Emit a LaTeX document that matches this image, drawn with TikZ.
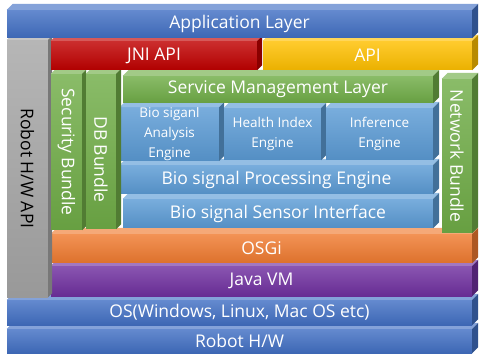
\documentclass[tikz,border=0pt]{standalone}
\usepackage{fontspec}
\setmainfont{Open Sans}
\usepackage{graphicx}
\definecolor{cAppBlue}{HTML}{4270C4}
\definecolor{cBio}{HTML}{5B9BD5}
\definecolor{cGreen}{HTML}{70AD47}
\definecolor{cRed}{HTML}{C00000}
\definecolor{cYellow}{HTML}{FFC000}
\definecolor{cOrange}{HTML}{F07B30}
\definecolor{cPurple}{HTML}{7030A0}
\definecolor{cGray}{HTML}{A6A6A6}
\newcommand\bigfont{\fontsize{17.5}{20}\selectfont}
\newcommand\smallfont{\fontsize{13.5}{16}\selectfont}
\newcommand\layerbox[8]{%
  \node[layerstyle, top color=#6!82!white, bottom color=#6!92!black,
        minimum width={(#4)-(#2)}, minimum height={(#5)-(#3)}]
        (#1) at ({((#2)+(#4))/2},{((#3)+(#5))/2}) {#8};
  \fill[#6!65!white] (#1.north west) -- ++(#7,-#7) -- ([shift={(#7,-#7)}]#1.north east) -- (#1.north east) -- cycle;
  \fill[#6!72!black] (#1.north east) -- ++(#7,-#7) -- ([shift={(#7,-#7)}]#1.south east) -- (#1.south east) -- cycle;
}
\tikzset{layerstyle/.style={draw=none, inner sep=0pt, text=white, align=center, font=\bigfont}}
\begin{document}
\begin{tikzpicture}[x=1pt,y=-1pt]
\useasboundingbox[fill=white] (0,0) rectangle (479,355);
% bottom layers
\layerbox{hw}{7}{329}{472}{353}{cAppBlue}{6}{Robot H/W}
\layerbox{os}{7}{300}{472}{325}{cAppBlue}{6}{OS(Windows, Linux, Mac OS etc)}
\layerbox{jvm}{51}{266}{472}{296}{cPurple}{6}{Java VM}
\layerbox{osgi}{51}{234}{472}{263}{cOrange}{6}{OSGi}
% hardware API column
\layerbox{hwapi}{7}{40}{48}{297}{cGray}{4}{\textcolor{black}{\rotatebox{-90}{Robot H/W API}}}
% inner engines
\layerbox{sens}{123}{199}{433}{228}{cBio}{6}{Bio signal Sensor Interface}
\layerbox{proc}{120}{165}{433}{194}{cBio}{6}{Bio signal Processing Engine}
\layerbox{ana}{120}{108}{219}{160}{cBio}{5}{\smallfont Bio siganl\\\smallfont Analysis\\\smallfont Engine}
\layerbox{hlt}{224}{108}{321}{160}{cBio}{5}{\smallfont Health Index\\\smallfont Engine}
\layerbox{inf}{326}{108}{433}{160}{cBio}{6}{\smallfont Inference\\\smallfont Engine}
\layerbox{svc}{123}{76}{433}{103}{cGreen}{6}{Service Management Layer}
% bundles
\layerbox{sec}{51}{74}{82}{230}{cGreen}{4}{\rotatebox{-90}{Security Bundle}}
\layerbox{db}{86}{74}{116}{229}{cGreen}{5}{\rotatebox{-90}{\hspace*{16pt}DB Bundle}}
\layerbox{net}{442}{79}{472}{233}{cGreen}{6}{\rotatebox{-90}{Network Bundle}}
% APIs
\layerbox{jni}{51}{41}{257}{70}{cRed}{5}{JNI API}
\layerbox{api}{263}{41}{472}{70}{cYellow}{6}{API}
% top
\layerbox{app}{7}{10}{472}{38}{cAppBlue}{6}{Application Layer}
\end{tikzpicture}
\end{document}
